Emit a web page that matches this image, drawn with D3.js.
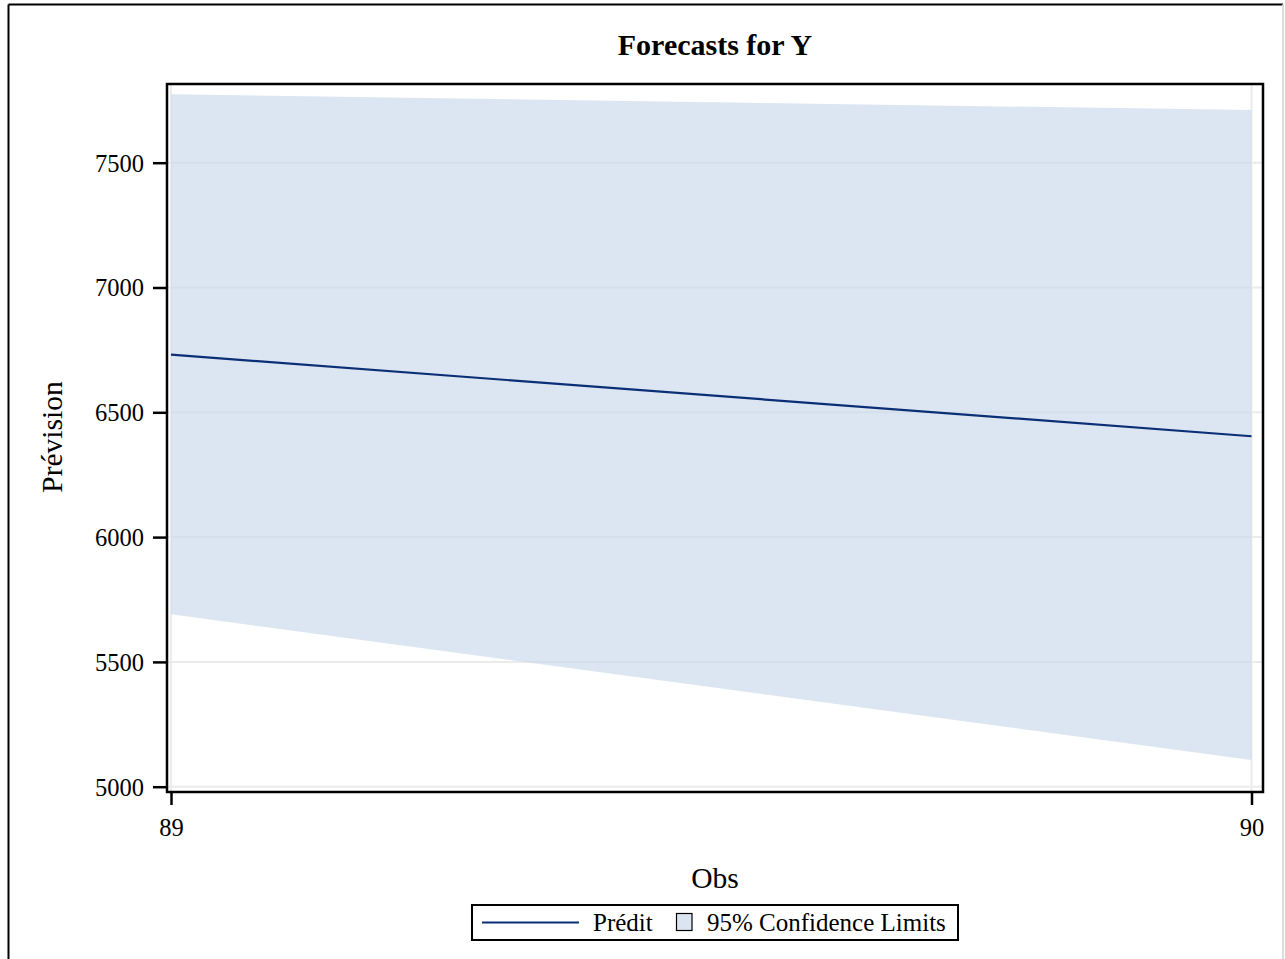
<!DOCTYPE html>
<html>
<head>
<meta charset="utf-8">
<script src="https://cdn.jsdelivr.net/npm/d3@7"></script>
<style>
  html, body { margin: 0; padding: 0; background: #fff; }
  svg { display: block; font-family: "Liberation Serif", "Times New Roman", serif; }
</style>
</head>
<body>
<svg id="chart" width="1285" height="959"></svg>
<script>
// Forecast horizon (observation numbers)
const obs = [89, 90];
// Predicted values
const predicted = [6731, 6404];
// 95% confidence limits
const lower = [5691, 5107];
const upper = [7774, 7711];
// Axis ticks
const yTicks = [5000, 5500, 6000, 6500, 7000, 7500];
const xTicks = [89, 90];

const svg = d3.select("#chart");
const SERIF = "Liberation Serif, Times New Roman, serif";

// Outer frame: left and top edges dark, right edge light
svg.append("line").attr("x1", 8.5).attr("x2", 8.5).attr("y1", 4.5).attr("y2", 959)
  .attr("stroke", "#000").attr("stroke-width", 2);
svg.append("line").attr("x1", 8.5).attr("x2", 1283).attr("y1", 4.5).attr("y2", 4.5)
  .attr("stroke", "#000").attr("stroke-width", 2);
svg.append("line").attr("x1", 1283).attr("x2", 1283).attr("y1", 4.5).attr("y2", 959)
  .attr("stroke", "#dcdcdc").attr("stroke-width", 2);

// Plot frame
const frame = { left: 167, top: 84, right: 1263, bottom: 792 };

const x = d3.scaleLinear().domain([89, 90]).range([171, 1251.5]);
const y = d3.scaleLinear().domain([5000, 7500]).range([786.7, 162.7]);

const data = obs.map((o, i) => ({ o, p: predicted[i], lo: lower[i], hi: upper[i] }));

svg.append("clipPath").attr("id", "plotclip")
  .append("rect")
  .attr("x", frame.left).attr("y", frame.top)
  .attr("width", frame.right - frame.left).attr("height", frame.bottom - frame.top);

const plot = svg.append("g").attr("clip-path", "url(#plotclip)");

// Grid lines
plot.selectAll("line.hgrid").data(yTicks).join("line")
  .attr("class", "hgrid")
  .attr("x1", frame.left).attr("x2", frame.right)
  .attr("y1", d => y(d)).attr("y2", d => y(d))
  .attr("stroke", "#ebebeb").attr("stroke-width", 2);
plot.selectAll("line.vgrid").data(xTicks).join("line")
  .attr("class", "vgrid")
  .attr("y1", frame.top).attr("y2", frame.bottom)
  .attr("x1", d => x(d)).attr("x2", d => x(d))
  .attr("stroke", "#ebebeb").attr("stroke-width", 2);

// Confidence band
const band = d3.area()
  .x(d => x(d.o))
  .y0(d => y(d.lo))
  .y1(d => y(d.hi));
plot.append("path")
  .datum(data)
  .attr("d", band)
  .attr("fill", "#c9d7eb")
  .attr("fill-opacity", 0.65);

// Predicted line
const line = d3.line().x(d => x(d.o)).y(d => y(d.p));
plot.append("path")
  .datum(data)
  .attr("d", line)
  .attr("fill", "none")
  .attr("stroke", "#0b2f74")
  .attr("stroke-width", 2.2);

// Frame border
svg.append("rect")
  .attr("x", frame.left).attr("y", frame.top)
  .attr("width", frame.right - frame.left).attr("height", frame.bottom - frame.top)
  .attr("fill", "none").attr("stroke", "#000").attr("stroke-width", 2.5);

// Y axis
const yAxis = d3.axisLeft(y).tickValues(yTicks).tickSize(14).tickPadding(9).tickFormat(d3.format("d"));
const gy = svg.append("g").attr("transform", `translate(${frame.left},0)`).call(yAxis);
gy.select(".domain").remove();
gy.selectAll(".tick line").attr("stroke", "#000").attr("stroke-width", 2.5);
gy.selectAll(".tick text").attr("font-size", 24.5).attr("fill", "#000")
  .attr("font-family", SERIF).attr("dy", "0.34em");

// X axis
const xAxis = d3.axisBottom(x).tickValues(xTicks).tickSize(13).tickPadding(14).tickFormat(d3.format("d"));
const gx = svg.append("g").attr("transform", `translate(0,${frame.bottom})`).call(xAxis);
gx.select(".domain").remove();
gx.selectAll(".tick line").attr("stroke", "#000").attr("stroke-width", 2.5);
gx.selectAll(".tick text").attr("font-size", 24.5).attr("fill", "#000")
  .attr("font-family", SERIF).attr("dy", "0.71em");

// Title
svg.append("text")
  .attr("x", (frame.left + frame.right) / 2).attr("y", 55)
  .attr("text-anchor", "middle")
  .attr("font-size", 30).attr("font-weight", "bold")
  .text("Forecasts for Y");

// Axis labels
svg.append("text")
  .attr("x", 715).attr("y", 888)
  .attr("text-anchor", "middle")
  .attr("font-size", 29.5)
  .text("Obs");
svg.append("text")
  .attr("transform", "translate(62,437) rotate(-90)")
  .attr("text-anchor", "middle")
  .attr("font-size", 29.5)
  .text("Prévision");

// Legend
const lg = svg.append("g");
lg.append("rect")
  .attr("x", 472).attr("y", 905).attr("width", 486).attr("height", 35)
  .attr("fill", "#fff").attr("stroke", "#000").attr("stroke-width", 2);
lg.append("line")
  .attr("x1", 482).attr("x2", 579).attr("y1", 922.5).attr("y2", 922.5)
  .attr("stroke", "#0b2f74").attr("stroke-width", 2.2);
lg.append("text")
  .attr("x", 593).attr("y", 931).attr("font-size", 25).text("Prédit");
lg.append("rect")
  .attr("x", 676.5).attr("y", 913.5).attr("width", 15.5).attr("height", 17)
  .attr("fill", "#dbe5f1").attr("stroke", "#000").attr("stroke-width", 1.2);
lg.append("text")
  .attr("x", 707).attr("y", 931).attr("font-size", 25).text("95% Confidence Limits");
</script>
</body>
</html>
